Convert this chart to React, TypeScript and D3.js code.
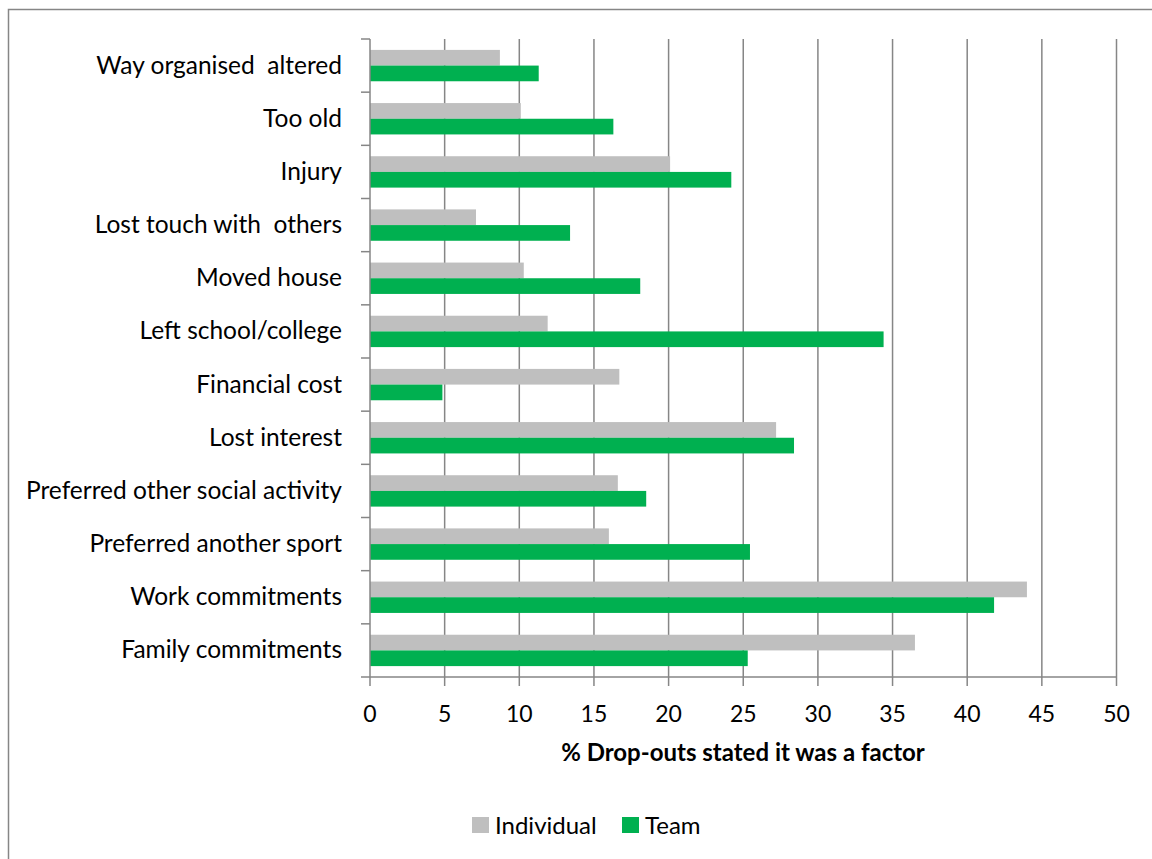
import * as d3 from 'd3'

const WIDTH = 1152
const HEIGHT = 859
const PLOT_LEFT = 370
const PLOT_RIGHT = 1116.5
const PLOT_TOP = 39
const PLOT_BOTTOM = 677

const FONT = 'Lato, "Open Sans", sans-serif'
const GRID_COLOR = '#868686'

// top to bottom
const categories = [
  'Way organised  altered',
  'Too old',
  'Injury',
  'Lost touch with  others',
  'Moved house',
  'Left school/college',
  'Financial cost',
  'Lost interest',
  'Preferred other social activity',
  'Preferred another sport',
  'Work commitments',
  'Family commitments',
]
const individual = [8.7, 10.1, 20.1, 7.1, 10.3, 11.9, 16.7, 27.2, 16.6, 16.0, 44.0, 36.5]
const team = [11.3, 16.3, 24.2, 13.4, 18.1, 34.4, 4.85, 28.4, 18.5, 25.45, 41.8, 25.3]

const seriesNames = ['Individual', 'Team']
const seriesColors = ['#BFBFBF', '#00B050']
const xTicks = [0, 5, 10, 15, 20, 25, 30, 35, 40, 45, 50]
const xTitle = '% Drop-outs stated it was a factor'

export default function App() {
  const x = d3.scaleLinear([0, 50], [PLOT_LEFT, PLOT_RIGHT])
  const y = d3
    .scaleBand<string>()
    .domain(categories)
    .range([PLOT_TOP, PLOT_BOTTOM])
    .paddingInner(0.41)
    .paddingOuter(0.205)
  const sub = d3.scaleBand<string>().domain(seriesNames).range([0, y.bandwidth()])
  const step = y.step()
  const boundaries = d3.range(categories.length + 1).map((i) => PLOT_TOP + i * step)
  const values = [individual, team]

  return (
    <svg
      width={WIDTH}
      height={HEIGHT}
      style={{ position: 'absolute', left: 0, top: 0, display: 'block', background: '#fff' }}
      fontFamily={FONT}
    >
      <rect x={8.5} y={9.5} width={WIDTH} height={HEIGHT} fill="#fff" stroke={GRID_COLOR} strokeWidth={1.5} />

      {/* vertical gridlines */}
      {xTicks.slice(1).map((t) => (
        <line key={t} x1={x(t)} x2={x(t)} y1={PLOT_TOP} y2={PLOT_BOTTOM} stroke={GRID_COLOR} strokeWidth={1.5} />
      ))}

      {/* bars */}
      {categories.map((c, i) =>
        values.map((vals, s) => (
          <rect
            key={c + s}
            x={x(0)}
            y={y(c)! + sub(seriesNames[s])!}
            width={x(vals[i]) - x(0)}
            height={sub.bandwidth()}
            fill={seriesColors[s]}
          />
        )),
      )}

      {/* category axis */}
      <line x1={PLOT_LEFT} x2={PLOT_LEFT} y1={PLOT_TOP} y2={PLOT_BOTTOM} stroke={GRID_COLOR} strokeWidth={1.5} />
      {boundaries.map((b, i) => (
        <line key={i} x1={PLOT_LEFT - 9} x2={PLOT_LEFT} y1={b} y2={b} stroke={GRID_COLOR} strokeWidth={1.5} />
      ))}
      {categories.map((c) => (
        <text
          key={c}
          x={342}
          y={y(c)! + y.bandwidth() / 2 + 8}
          textAnchor="end"
          fontSize={24.5}
          fill="#000"
          style={{ whiteSpace: 'pre' }}
        >
          {c}
        </text>
      ))}

      {/* value axis */}
      <line x1={PLOT_LEFT} x2={PLOT_RIGHT} y1={PLOT_BOTTOM} y2={PLOT_BOTTOM} stroke={GRID_COLOR} strokeWidth={1.5} />
      {xTicks.map((t) => (
        <g key={t}>
          <line x1={x(t)} x2={x(t)} y1={PLOT_BOTTOM} y2={PLOT_BOTTOM + 9} stroke={GRID_COLOR} strokeWidth={1.5} />
          <text x={x(t)} y={722} textAnchor="middle" fontSize={23} fill="#000">
            {t}
          </text>
        </g>
      ))}
      <text x={(558 + 928) / 2} y={761} textAnchor="middle" fontSize={24} fontWeight="bold" fill="#000">
        {xTitle}
      </text>

      {/* legend */}
      {seriesNames.map((name, s) => {
        const lx = [472, 622][s]
        return (
          <g key={name}>
            <rect x={lx} y={817} width={17} height={16} fill={seriesColors[s]} />
            <text x={lx + 23} y={834} fontSize={24} fill="#000">
              {name}
            </text>
          </g>
        )
      })}
    </svg>
  )
}
